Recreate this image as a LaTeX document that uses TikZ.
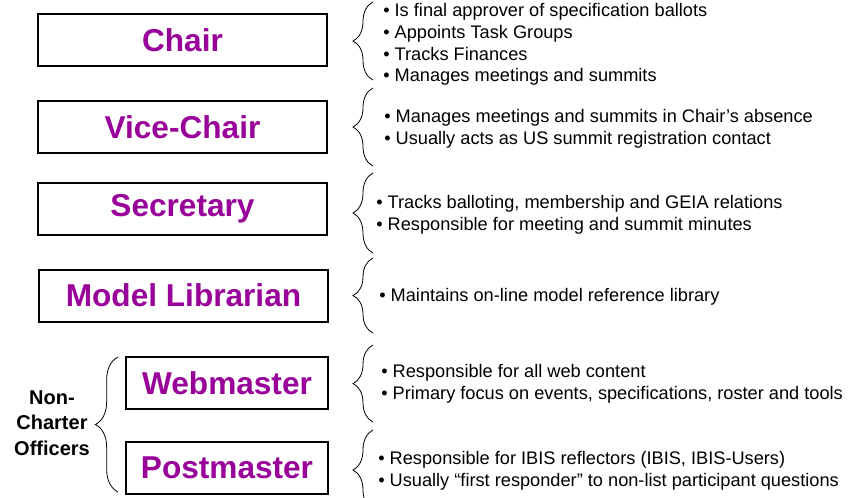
\documentclass[tikz,border=0pt]{standalone}
\usepackage{fontspec}
\setmainfont{Liberation Sans}
\usepackage{tikz}
\usetikzlibrary{decorations.pathreplacing}
\definecolor{officerpurple}{RGB}{153,0,153}

\begin{document}
\begin{tikzpicture}[
    x=0.75pt, y=-0.75pt,
    officer/.style={rectangle, draw, line width=1.5pt, minimum height=39pt, inner sep=0pt, text=officerpurple, font=\fontsize{23.7}{28}\selectfont\bfseries},
    duty/.style={anchor=west, align=left, inner sep=0pt, font=\fontsize{13.65}{16.3}\selectfont},
    grp/.style={align=center, font=\fontsize{15}{19}\selectfont\bfseries},
    brc/.style={decorate, decoration={brace, amplitude=15pt}, line width=0.6pt}
]
\useasboundingbox (0,0) rectangle (848,497);

% Officer boxes
\node[officer, minimum width=216.75pt] (chair) at (182.5,40) {Chair};
\node[officer, minimum width=216.75pt] (vice) at (182.5,127) {Vice-Chair};
\node[officer, minimum width=216.75pt] (secr) at (182.5,209) {Secretary};
\node[officer, minimum width=216.75pt] (libr) at (183.5,295.5) {Model Librarian};
\node[officer, minimum width=151.5pt] (web) at (227,383) {Webmaster};
\node[officer, minimum width=151.5pt] (post) at (227,468) {Postmaster};

% Duties
\node[duty] (chairduty) at (383,44.5) {\textbullet\ Is final approver of specification ballots\\
    \textbullet\ Appoints Task Groups\\
    \textbullet\ Tracks Finances\\
    \textbullet\ Manages meetings and summits};
\node[duty] (viceduty) at (384,128.5) {\textbullet\ Manages meetings and summits in Chair’s absence\\
    \textbullet\ Usually acts as US summit registration contact};
\node[duty] (secrduty) at (376,214.5) {\textbullet\ Tracks balloting, membership and GEIA relations\\
    \textbullet\ Responsible for meeting and summit minutes};
\node[duty] (librduty) at (379,297) {\textbullet\ Maintains on-line model reference library};
\node[duty] (webduty) at (381,384) {\textbullet\ Responsible for all web content\\
    \textbullet\ Primary focus on events, specifications, roster and tools};
\node[duty] (postduty) at (378,470.5) {\textbullet\ Responsible for IBIS reflectors (IBIS, IBIS-Users)\\
    \textbullet\ Usually “first responder” to non-list participant questions};

% Non-charter label
\node[grp] (noncharter) at (52,423) {Non-\\Charter\\Officers};

% Braces
\coordinate (chairtop) at (373,2);   \coordinate (chairbot) at (373,80);
\coordinate (vicetop) at (373,88);   \coordinate (vicebot) at (373,166);
\coordinate (secrtop) at (373,173);  \coordinate (secrbot) at (373,253);
\coordinate (librtop) at (373,258);  \coordinate (librbot) at (373,333);
\coordinate (webtop) at (373,345);   \coordinate (webbot) at (373,422);
\coordinate (posttop) at (373,430);  \coordinate (postbot) at (373,510);
\coordinate (nctop) at (118,357);    \coordinate (ncbot) at (118,492);

\draw[brc] (chairbot) -- (chairtop);
\draw[brc] (vicebot) -- (vicetop);
\draw[brc] (secrbot) -- (secrtop);
\draw[brc] (librbot) -- (librtop);
\draw[brc] (webbot) -- (webtop);
\draw[brc] (postbot) -- (posttop);
\draw[brc, decoration={brace, amplitude=17pt}] (ncbot) -- (nctop);
\end{tikzpicture}
\end{document}
